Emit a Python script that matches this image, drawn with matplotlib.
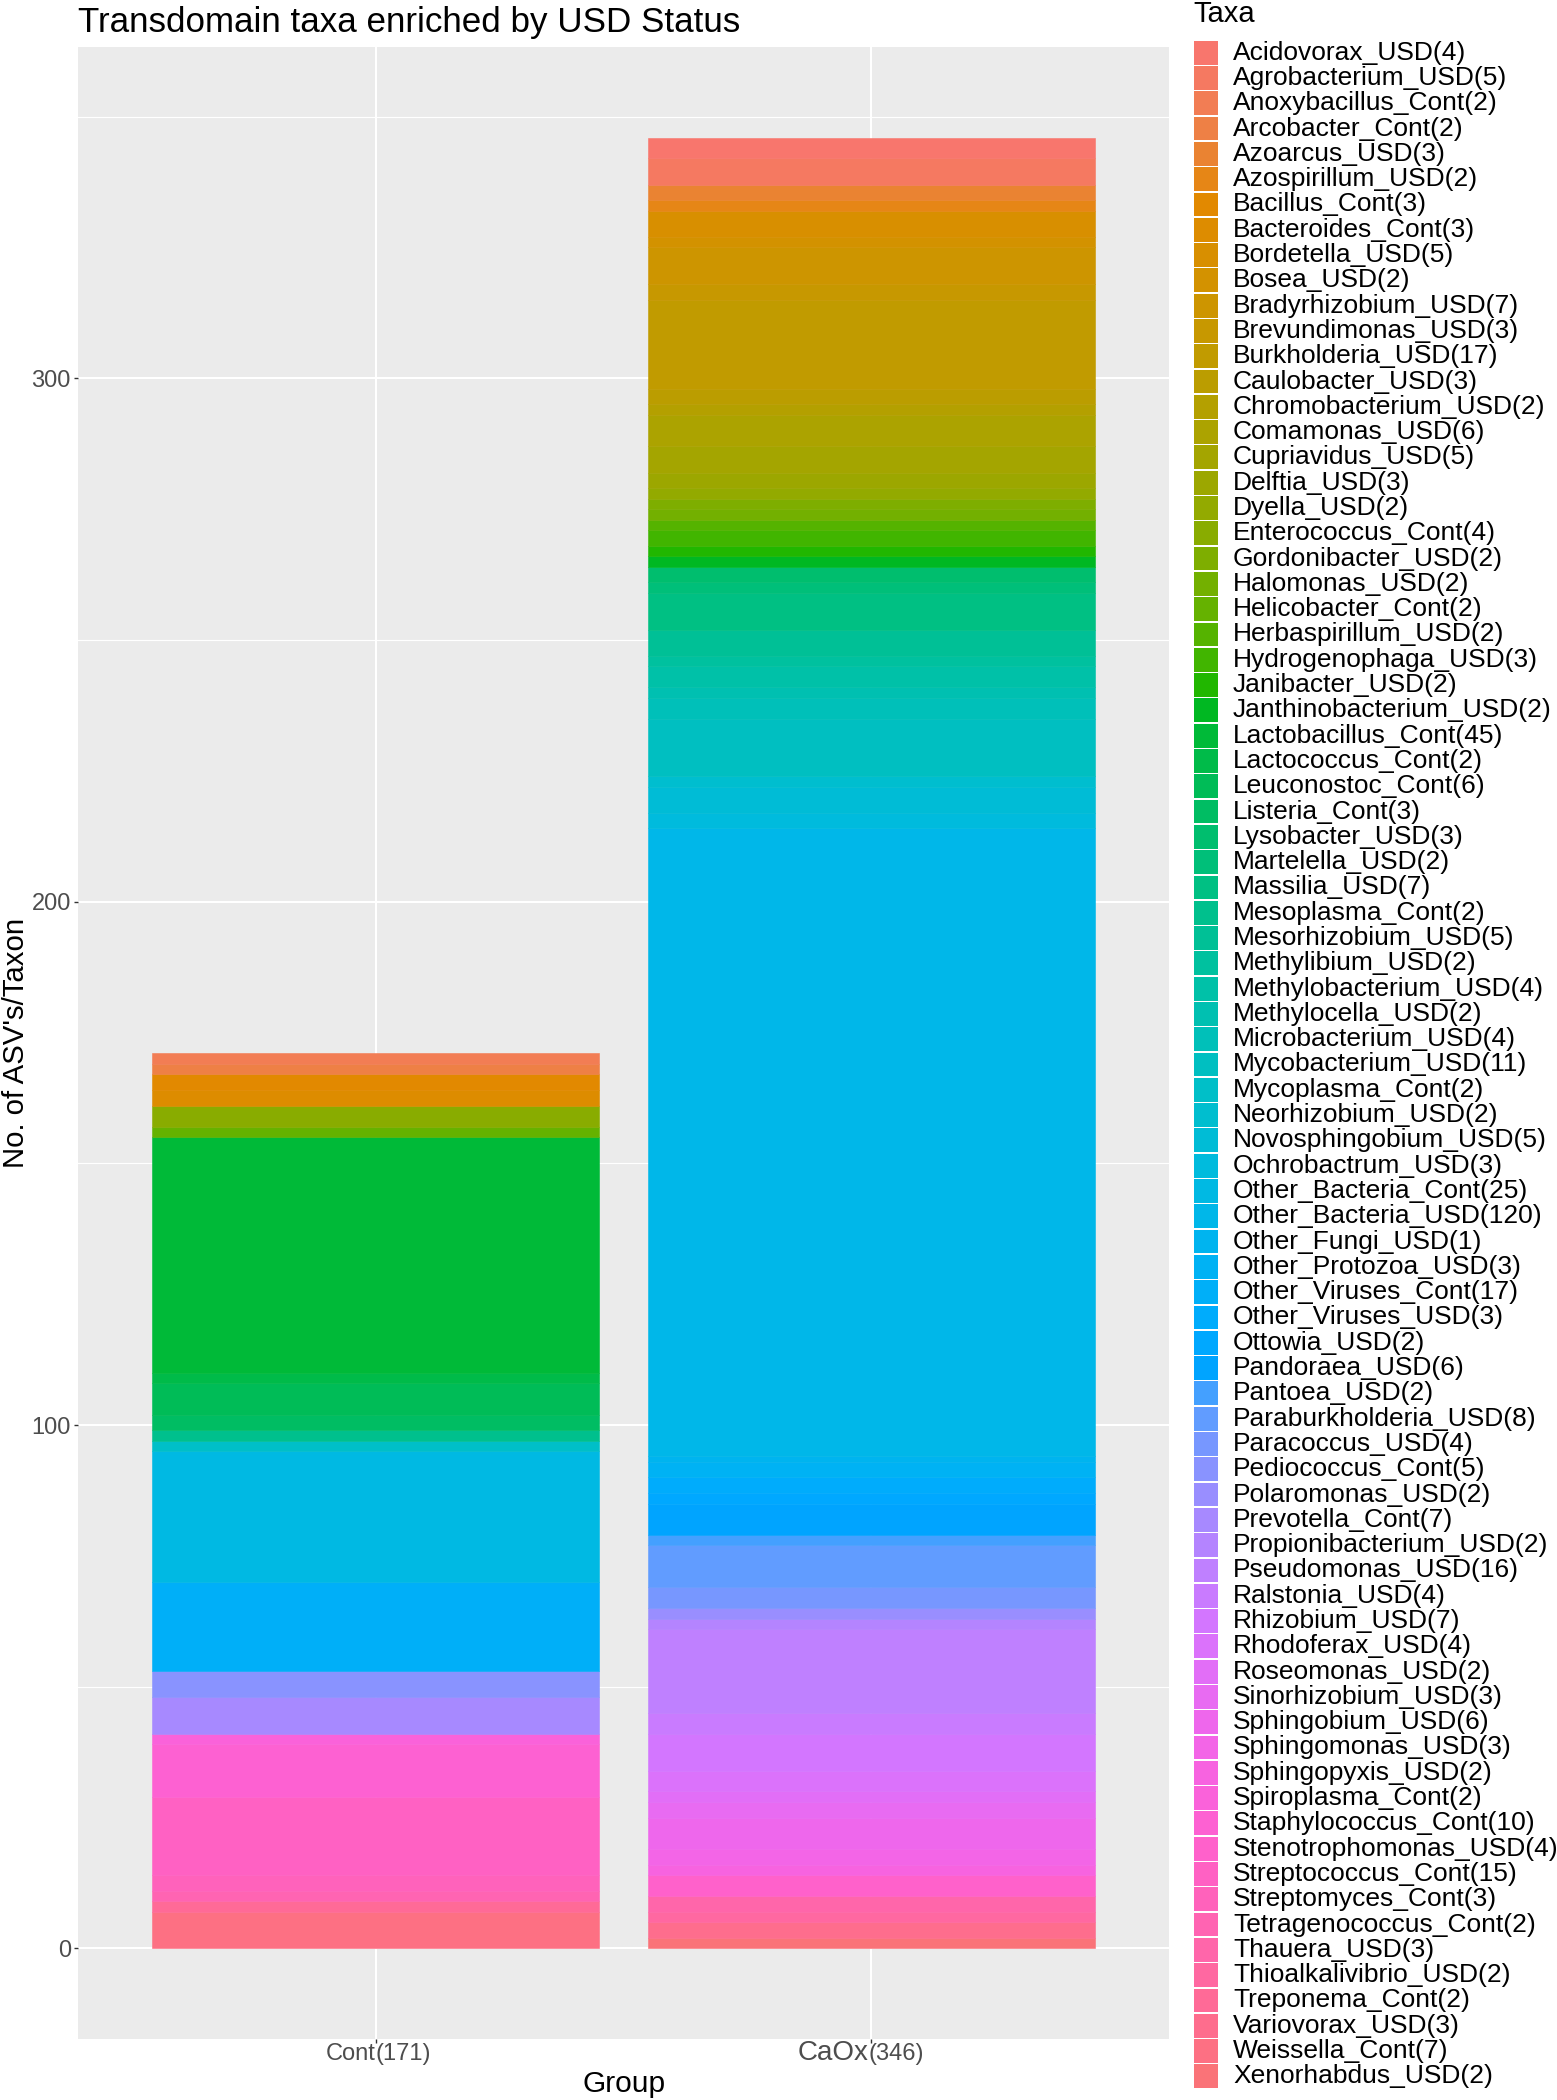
import numpy as np
import matplotlib
matplotlib.use("Agg")
import matplotlib.pyplot as plt

plt.rcParams['font.family'] = ['Liberation Sans', 'DejaVu Sans']

# taxa in legend order (first level is drawn on top of the stack)
taxa = [
    "Acidovorax_USD", "Agrobacterium_USD", "Anoxybacillus_Cont", "Arcobacter_Cont",
    "Azoarcus_USD", "Azospirillum_USD", "Bacillus_Cont", "Bacteroides_Cont",
    "Bordetella_USD", "Bosea_USD", "Bradyrhizobium_USD", "Brevundimonas_USD",
    "Burkholderia_USD", "Caulobacter_USD", "Chromobacterium_USD", "Comamonas_USD",
    "Cupriavidus_USD", "Delftia_USD", "Dyella_USD", "Enterococcus_Cont",
    "Gordonibacter_USD", "Halomonas_USD", "Helicobacter_Cont", "Herbaspirillum_USD",
    "Hydrogenophaga_USD", "Janibacter_USD", "Janthinobacterium_USD", "Lactobacillus_Cont",
    "Lactococcus_Cont", "Leuconostoc_Cont", "Listeria_Cont", "Lysobacter_USD",
    "Martelella_USD", "Massilia_USD", "Mesoplasma_Cont", "Mesorhizobium_USD",
    "Methylibium_USD", "Methylobacterium_USD", "Methylocella_USD", "Microbacterium_USD",
    "Mycobacterium_USD", "Mycoplasma_Cont", "Neorhizobium_USD", "Novosphingobium_USD",
    "Ochrobactrum_USD", "Other_Bacteria_Cont", "Other_Bacteria_USD", "Other_Fungi_USD",
    "Other_Protozoa_USD", "Other_Viruses_Cont", "Other_Viruses_USD", "Ottowia_USD",
    "Pandoraea_USD", "Pantoea_USD", "Paraburkholderia_USD", "Paracoccus_USD",
    "Pediococcus_Cont", "Polaromonas_USD", "Prevotella_Cont", "Propionibacterium_USD",
    "Pseudomonas_USD", "Ralstonia_USD", "Rhizobium_USD", "Rhodoferax_USD",
    "Roseomonas_USD", "Sinorhizobium_USD", "Sphingobium_USD", "Sphingomonas_USD",
    "Sphingopyxis_USD", "Spiroplasma_Cont", "Staphylococcus_Cont", "Stenotrophomonas_USD",
    "Streptococcus_Cont", "Streptomyces_Cont", "Tetragenococcus_Cont", "Thauera_USD",
    "Thioalkalivibrio_USD", "Treponema_Cont", "Variovorax_USD", "Weissella_Cont",
    "Xenorhabdus_USD",
]
counts = [
    4, 5, 2, 2, 3, 2, 3, 3, 5, 2, 7, 3, 17, 3, 2, 6, 5, 3, 2, 4,
    2, 2, 2, 2, 3, 2, 2, 45, 2, 6, 3, 3, 2, 7, 2, 5, 2, 4, 2, 4,
    11, 2, 2, 5, 3, 25, 120, 1, 3, 17, 3, 2, 6, 2, 8, 4, 5, 2, 7, 2,
    16, 4, 7, 4, 2, 3, 6, 3, 2, 2, 10, 4, 15, 3, 2, 3, 2, 2, 3, 7,
    2,
]
groups = ["Cont", "CaOx"]
group_of = ["Cont" if t.endswith("_Cont") else "CaOx" for t in taxa]
name_sizes = [17, 20]


def hcl_hex(h, c, l):
    # grDevices::hcl (polar CIE-LUV, D65) -> sRGB hex
    hr = np.deg2rad(h)
    U, V = c * np.cos(hr), c * np.sin(hr)
    Y = 100 * ((l + 16) / 116) ** 3 if l > 7.999592 else 100 * l / 903.3
    u = U / (13 * l) + 0.1978398
    v = V / (13 * l) + 0.4683363
    X = 9.0 * Y * u / (4 * v)
    Z = -X / 3 - 5 * Y + 3 * Y / v
    rgb = np.array([
        3.240479 * X - 1.537150 * Y - 0.498535 * Z,
        -0.969256 * X + 1.875992 * Y + 0.041556 * Z,
        0.055648 * X - 0.204043 * Y + 1.057311 * Z,
    ]) / 100
    rgb = np.where(rgb > 0.00304, 1.055 * np.abs(rgb) ** (1 / 2.4) - 0.055, 12.92 * rgb)
    rgb = np.clip(rgb, 0, 1)
    return "#%02X%02X%02X" % tuple(int(round(x * 255)) for x in rgb)


n = len(taxa)
hues = np.linspace(15, 375, n + 1)[:-1]
colors = [hcl_hex(h, 100, 65) for h in hues]

W, H = 1557, 2100
fig = plt.figure(figsize=(W / 100, H / 100), dpi=100)
ax = fig.add_axes([78 / W, 1 - 2039 / H, (1169 - 78) / W, (2039 - 47) / H])
ax.set_facecolor("#EBEBEB")

# stacked bars, last level at the bottom
bottoms = {g: 0 for g in groups}
for i in range(n - 1, -1, -1):
    g = group_of[i]
    gi = groups.index(g)
    ax.bar(gi, counts[i], bottom=bottoms[g], width=0.9, color=colors[i],
           edgecolor=colors[i], linewidth=0.4, zorder=3)
    bottoms[g] += counts[i]

totals = [bottoms[g] for g in groups]
ymax = max(totals)
ax.set_xlim(-0.6, len(groups) - 0.4)
ax.set_ylim(-0.05 * ymax, 1.05 * ymax)
ax.set_yticks([0, 100, 200, 300])
ax.set_yticks([50, 150, 250, 350], minor=True)
ax.set_xticks(range(len(groups)))
ax.set_xticklabels([])
ax.grid(which="major", color="white", linewidth=1.5, zorder=0)
ax.grid(which="minor", axis="y", color="white", linewidth=0.8, zorder=0)
ax.set_axisbelow(True)
for s in ax.spines.values():
    s.set_visible(False)
ax.tick_params(axis="both", which="major", length=3.2, width=1.0, color="#333333",
               labelcolor="#4D4D4D", labelsize=17, pad=2)
ax.tick_params(which="minor", length=0)

for gi, g in enumerate(groups):
    ax.annotate(g, xy=(gi, 0), xycoords=("data", "axes fraction"), xytext=(0 if gi == 0 else -3, -21),
                textcoords="offset pixels", ha="right", va="baseline",
                fontsize=name_sizes[gi], color="#4D4D4D")
    ax.annotate("(%d)" % totals[gi], xy=(gi, 0), xycoords=("data", "axes fraction"),
                xytext=(0 if gi == 0 else -3, -21), textcoords="offset pixels",
                ha="left", va="baseline", fontsize=17, color="#4D4D4D")

fig.text(78 / W, 1 - 32 / H, "Transdomain taxa enriched by USD Status", fontsize=25.2,
         ha="left", va="baseline")
fig.text(16 / W, 1 - 1043 / H, "No. of ASV's/Taxon", fontsize=21.2, rotation=90,
         ha="center", va="center")
fig.text(624 / W, 1 - 2092 / H, "Group", fontsize=21.5, ha="center", va="baseline")

# legend
lax = fig.add_axes([1194 / W, 1 - 2089 / H, (W - 1194) / W, (2089 - 40) / H])
lax.set_xlim(0, W - 1194)
lax.set_ylim(n, 0)
lax.axis("off")
rows = np.arange(n) + 0.5
lax.barh(rows, 24, left=0, height=0.94, color=colors)
for i in range(n):
    lax.text(39, rows[i], "%s(%d)" % (taxa[i], counts[i]), fontsize=19,
             ha="left", va="center")
fig.text(1193 / W, 1 - 22 / H, "Taxa", fontsize=21, ha="left", va="baseline")

fig.savefig("out.png", dpi=100)
